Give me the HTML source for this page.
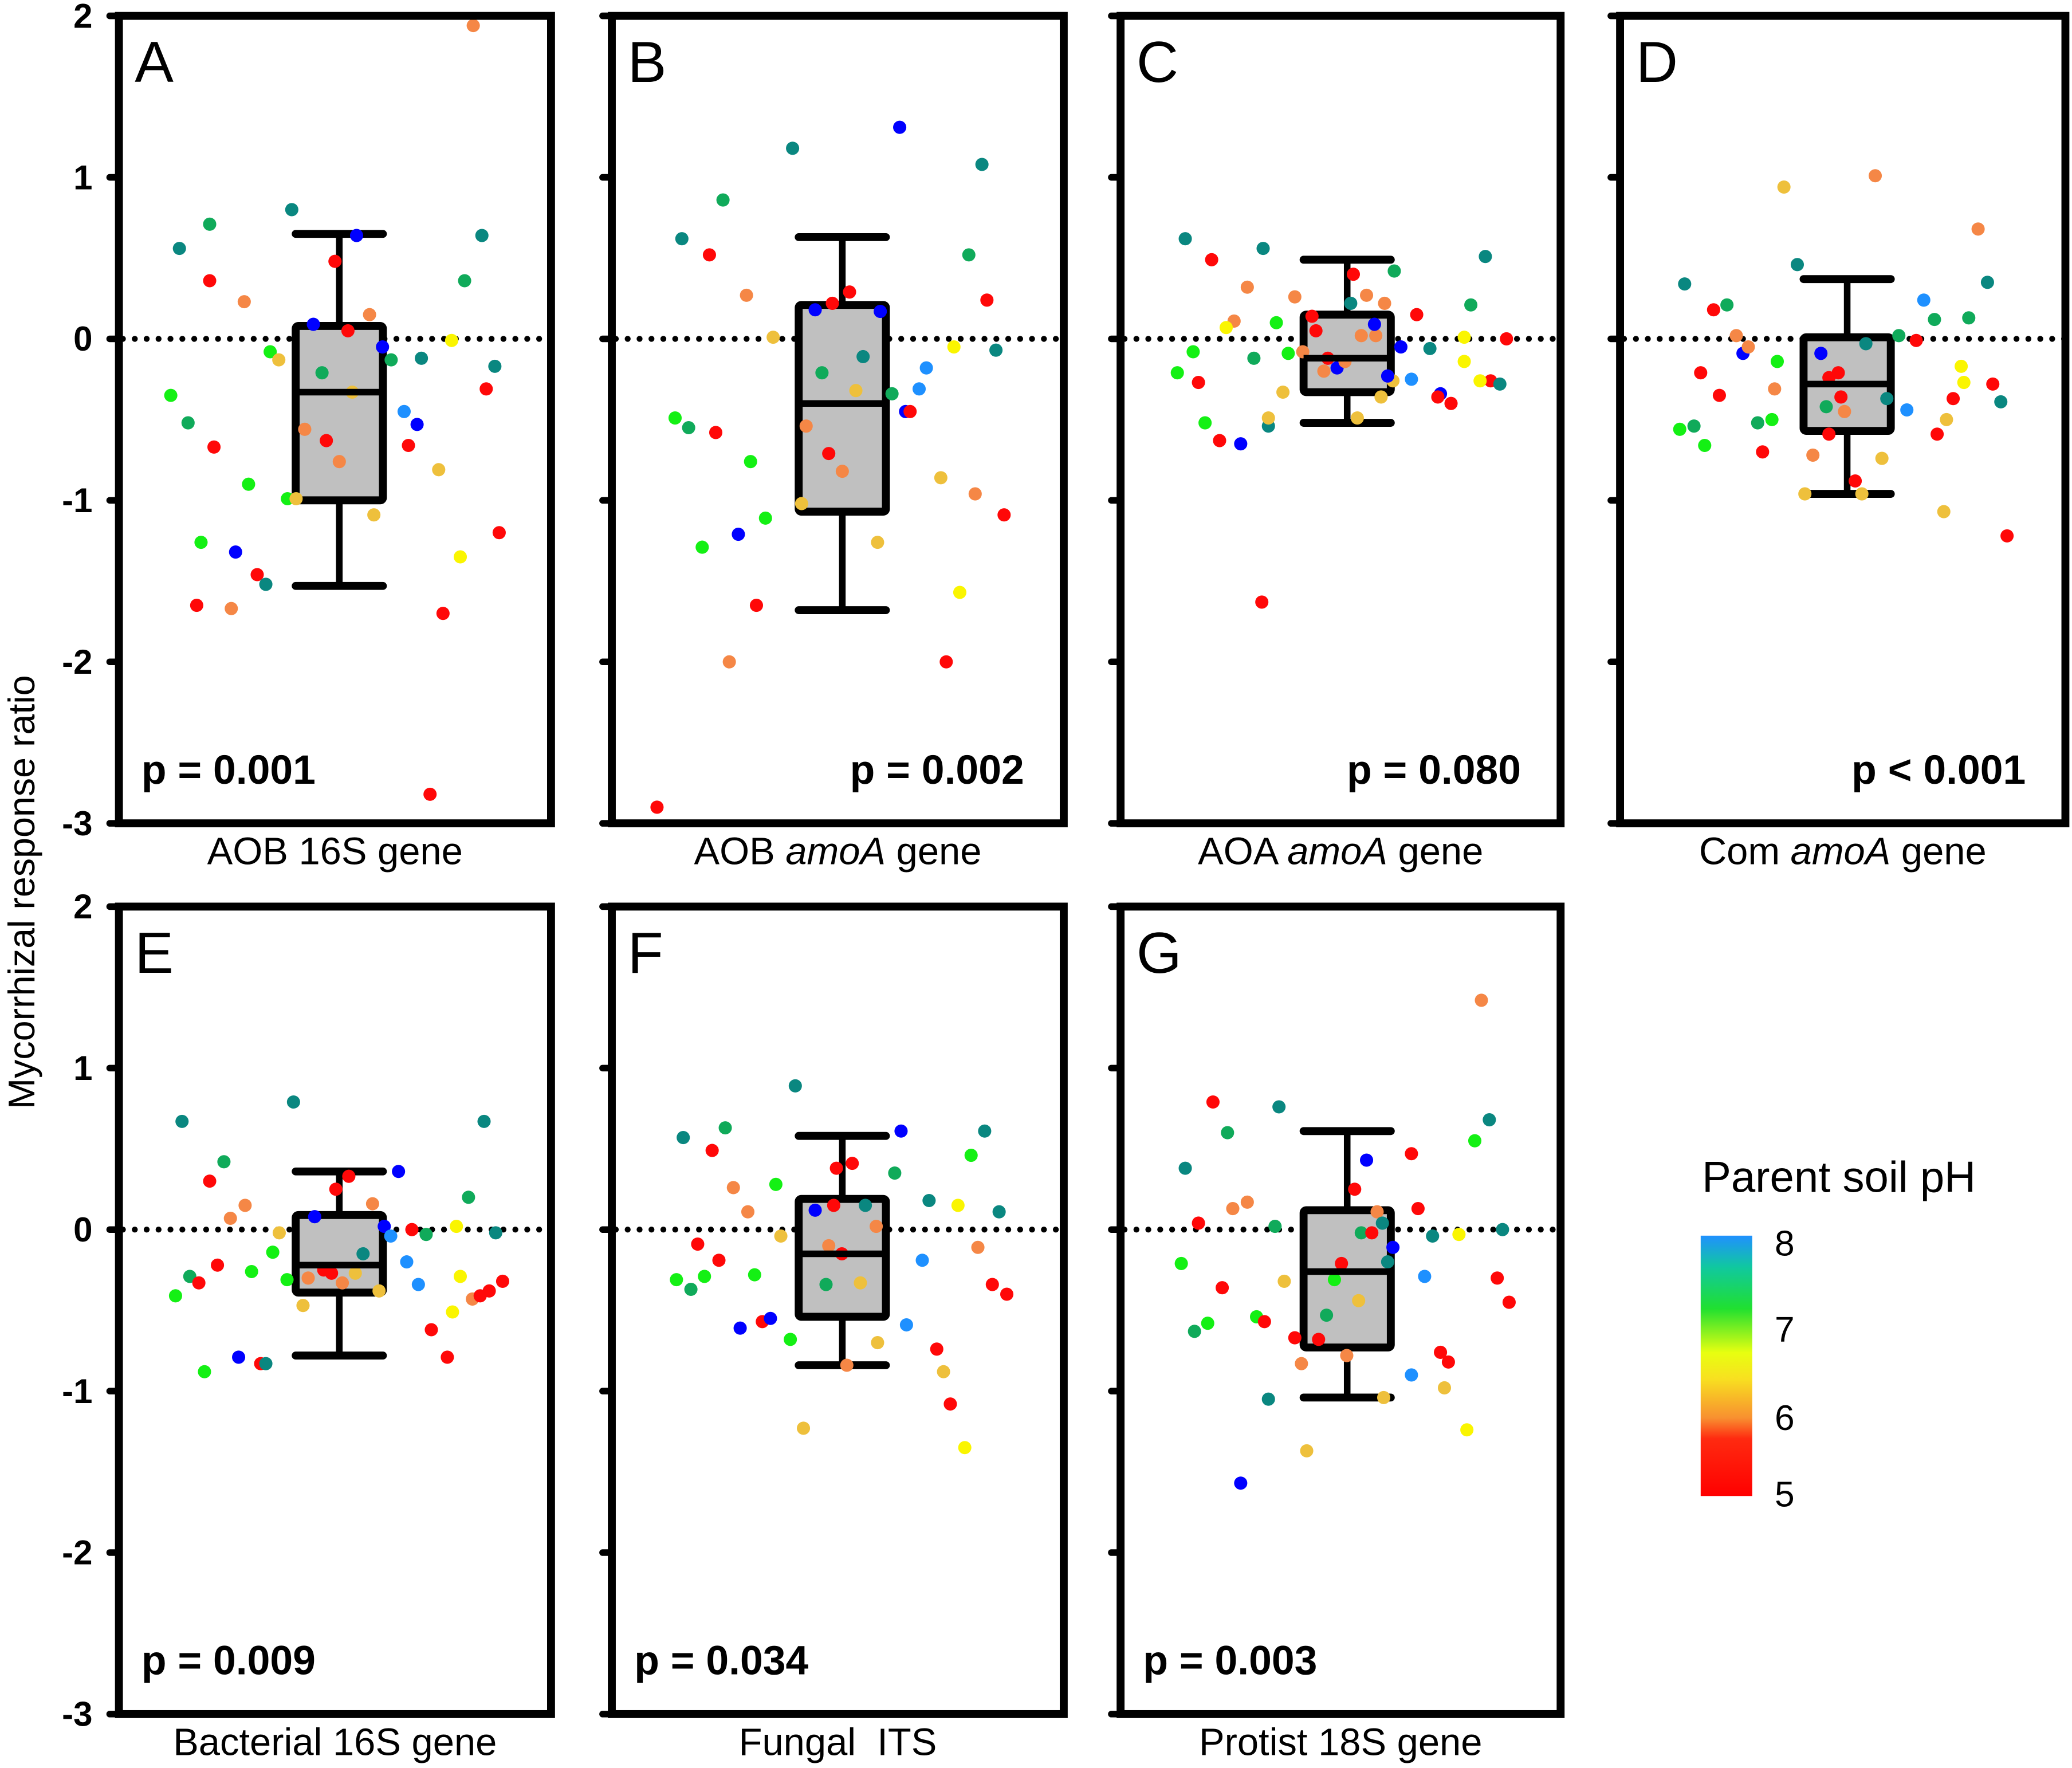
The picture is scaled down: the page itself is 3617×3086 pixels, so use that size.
<!DOCTYPE html>
<html><head><meta charset="utf-8"><style>
html,body{margin:0;padding:0;background:#fff}
svg{display:block}
text{font-family:"Liberation Sans",Arial,sans-serif}
</style></head><body>
<svg id="chart" xmlns="http://www.w3.org/2000/svg" width="3617" height="3086" viewBox="0 0 1568 1337.8">
<defs>
<linearGradient id="phgrad" x1="0" y1="1" x2="0" y2="0">
<stop offset="0" stop-color="#ff0000"/><stop offset="0.22" stop-color="#ff2a10"/>
<stop offset="0.3" stop-color="#f89030"/><stop offset="0.45" stop-color="#f8e020"/>
<stop offset="0.55" stop-color="#e8ff10"/><stop offset="0.72" stop-color="#20e030"/>
<stop offset="0.88" stop-color="#10c8a0"/><stop offset="1" stop-color="#2090ff"/>
</linearGradient>
</defs>
<g id="root"></g>
<text x="0" y="0" transform="translate(26,675) rotate(-90)" text-anchor="middle" font-size="28">Mycorrhizal response ratio</text>
<g>
<text x="1288" y="902" font-size="33">Parent soil pH</text>
<rect x="1287" y="935" width="39" height="197" fill="url(#phgrad)"/>
<text x="1343" y="950" font-size="27">8</text>
<text x="1343" y="1015" font-size="27">7</text>
<text x="1343" y="1082" font-size="27">6</text>
<text x="1343" y="1140" font-size="27">5</text>
</g>
</svg>
<script>
const yTicks = [2, 1, 0, -1, -2, -3];
const panelLetters = ["A","B","C","D","E","F","G"];
const panelLabels = ["AOB 16S gene","AOB |amoA| gene","AOA |amoA| gene","Com |amoA| gene","Bacterial 16S gene","Fungal \u00a0ITS","Protist 18S gene"];
const pValues = ["p = 0.001","p = 0.002","p = 0.080","p < 0.001","p = 0.009","p = 0.034","p = 0.003"];
const pAlign = ["left","right","right","right","left","left","left"];
const boxStats = [
 [0.65,0.08,-0.33,-1.0,-1.53],[0.63,0.21,-0.40,-1.07,-1.68],[0.49,0.15,-0.12,-0.33,-0.52],
 [0.37,0.01,-0.28,-0.57,-0.96],[0.36,0.09,-0.22,-0.39,-0.78],[0.58,0.19,-0.15,-0.54,-0.84],
 [0.61,0.12,-0.26,-0.73,-1.04]];
const boxCenter = [51, 51, 51.5, 51, 51, 51, 51.5];

const A_x=[14,21,12,16,21,29,22,30,19,39,27,32,34,18,26,40,50,55,45,53,58,35,37,47,54,61,63,43,48,51,41,59,70,66,69,67,74,77,80,84,87,85,88,79,75,72,82];
const A_v=[0.56,0.71,-0.35,-0.52,0.36,0.23,-0.67,-0.9,-1.26,-0.99,-1.32,-1.46,-1.52,-1.65,-1.67,0.80,0.48,0.64,0.09,0.05,0.15,-0.08,-0.13,-0.21,-0.33,-0.05,-0.13,-0.56,-0.63,-0.76,-0.99,-1.09,-0.12,-0.45,-0.53,-0.66,-0.81,-0.01,0.36,0.64,-0.17,-0.31,-1.2,-1.35,-1.70,-2.82,1.94];
const A_ph=[7.6,7.2,7.0,7.2,5.2,6.0,5.2,7.0,7.0,7.0,8.2,5.2,7.6,5.2,6.0,7.6,5.2,8.2,8.2,5.2,6.0,7.0,6.3,7.2,6.3,8.2,7.2,6.0,5.2,6.0,6.3,6.3,7.6,7.9,8.2,5.2,6.3,6.7,7.2,7.6,7.6,5.2,5.2,6.7,5.2,5.2,6.0];
const B_x=[15.5,24.6,21.6,40,29.8,14,17,23,30.7,20,28,34,32,26,10,35.7,45,48.8,52.6,46.5,43,54,48,51,42,55.6,59.4,62,58.8,63.7,68,69.6,65,66,75.7,72.8,80.4,83,79,81.9,85,86.8,77,74];
const B_v=[0.62,0.86,0.52,1.18,0.27,-0.49,-0.55,-0.58,-0.76,-1.29,-1.21,-1.11,-1.65,-2.0,-2.9,0.01,0.18,0.22,0.29,-0.21,-0.54,-0.32,-0.71,-0.82,-1.02,-0.11,0.17,-0.34,-1.26,1.31,-0.31,-0.18,-0.45,-0.45,-0.05,-0.86,-0.96,0.24,0.52,1.08,-0.07,-1.09,-1.57,-2.0];
const B_ph=[7.6,7.2,5.2,7.6,6.0,7.0,7.2,5.2,7.0,7.0,8.2,7.0,5.2,6.0,5.2,6.3,8.2,5.2,5.2,7.2,6.0,6.3,5.2,6.0,6.3,7.6,8.2,7.2,6.3,8.2,7.9,7.9,8.2,5.2,6.7,6.3,6.0,5.2,7.2,7.6,7.6,5.2,6.7,5.2];
const C_x=[14.7,20.7,28.8,25.8,24,35.4,32.4,16.5,12.9,17.7,30.3,38.1,19.2,22.5,27.3,33.6,32.1,36.9,33.6,39.6,43.5,44.4,41.4,46.2,49.2,52.3,52.9,55.9,54.7,58,60,47.1,51,57.7,62.2,59.2,61.9,53.8,63.7,60.7,66.1,67.3,70.3,72.7,78.1,78.1,72.1,75.1,79.6,82.9,84.1,86.2,87.7,81.7];
const C_v=[0.62,0.49,0.32,0.11,0.07,0.10,0.56,-0.08,-0.21,-0.27,-0.12,-0.09,-0.52,-0.63,-0.65,-0.54,-1.63,-0.33,-0.49,0.26,0.14,0.05,-0.08,-0.2,-0.18,0.22,0.40,0.27,0.02,0.02,0.22,-0.12,-0.14,0.09,0.42,-0.36,-0.26,-0.49,-0.05,-0.23,-0.25,0.15,-0.06,-0.34,0.01,-0.14,-0.36,-0.40,0.21,0.51,-0.26,-0.28,0.0,-0.26];
const C_ph=[7.6,5.2,6.0,6.0,6.7,7.0,7.6,7.0,7.0,5.2,7.2,7.0,7.0,5.2,8.2,7.6,5.2,6.3,6.3,6.0,5.2,5.2,6.0,6.0,8.2,7.6,5.2,6.0,6.0,6.0,6.0,5.2,6.0,8.2,7.2,6.3,6.3,6.3,8.2,8.2,7.9,5.2,7.6,8.2,6.7,6.7,5.2,5.2,7.2,7.6,5.2,7.6,5.2,6.7];
const D_x=[14.5,21,24,13.4,16.6,19,18.1,22.3,26.1,27.6,28.8,30.9,32,34.7,34.1,35.3,36.8,39.8,41.5,43.3,45.1,46.9,49.6,49,46.3,50.4,46.9,52.8,54.3,55.2,57.3,62.6,58.8,59.9,64.4,66.5,68.2,70.6,71.2,73.3,74.8,76.6,77.2,78.3,80.4,82.5,83.7,85.5,72.7,86.9];
const D_v=[0.34,0.18,0.21,-0.56,-0.54,-0.66,-0.21,-0.35,0.02,-0.09,-0.05,-0.52,-0.70,-0.31,-0.50,-0.14,0.94,0.46,-0.96,-0.72,-0.09,-0.24,-0.36,-0.21,-0.42,-0.45,-0.59,-0.88,-0.96,-0.03,1.01,0.02,-0.74,-0.37,-0.44,-0.01,0.24,0.12,-0.59,-0.50,-0.37,-0.17,-0.27,0.13,0.68,0.35,-0.28,-0.39,-1.07,-1.22];
const D_ph=[7.6,5.2,7.2,7.0,7.2,7.0,5.2,5.2,6.0,8.2,6.0,7.2,5.2,6.0,7.0,7.0,6.3,7.6,6.3,6.0,8.2,5.2,5.2,5.2,7.2,6.0,5.2,5.2,6.3,7.6,6.0,7.2,6.3,7.6,7.9,5.2,7.9,7.2,5.2,6.3,5.2,6.7,6.7,7.2,6.0,7.6,5.2,7.6,6.3,5.2];
const E_x=[14.6,21,24.3,13.1,16.4,18.5,22.8,19.8,25.8,29.2,30.7,35.6,37.1,38.9,27.7,32.8,34,40.4,42.6,43.8,45.3,47.4,49.2,50.2,53.2,51.7,54.7,58.7,56.5,60.2,61.4,64.7,62.9,66.6,67.8,69.3,71.1,72.3,76,78.1,79,77.2,80.9,81.8,83.6,85.7,84.5,87.2,88.8];
const E_v=[0.67,0.30,0.42,-0.41,-0.29,-0.33,-0.22,-0.88,0.07,0.15,-0.26,-0.14,-0.02,-0.31,-0.79,-0.83,-0.83,0.79,-0.47,-0.30,0.08,-0.25,-0.27,0.25,0.33,-0.33,-0.27,0.16,-0.15,-0.38,0.02,0.36,-0.04,-0.20,0,-0.34,-0.03,-0.62,-0.79,0.02,-0.29,-0.51,0.20,-0.43,-0.41,-0.38,0.67,-0.02,-0.32];
const E_ph=[7.6,5.2,7.2,7.0,7.2,5.2,5.2,7.0,6.0,6.0,7.0,7.0,6.3,7.0,8.2,5.2,7.6,7.6,6.3,6.0,8.2,5.2,5.2,5.2,5.2,6.0,6.3,6.0,7.6,6.3,8.2,8.2,7.9,7.9,5.2,7.9,7.2,5.2,5.2,6.7,6.7,6.7,7.2,6.0,5.2,5.2,7.6,7.6,5.2];
const F_x=[15.8,25.1,22.2,40.6,26.9,30.1,36.3,14.3,17.5,20.5,23.7,19,37.4,31.6,33.3,35.1,28.4,39.5,42.4,45,49.7,49.1,53.2,48,47.4,50.9,52,55,56.1,58.5,58.8,64,62.6,65.2,68.7,70.2,71.9,73.4,74.9,76.6,78.1,79.5,81,82.5,84.2,85.7,87.4];
const F_v=[0.57,0.63,0.49,0.89,0.26,0.11,0.28,-0.31,-0.37,-0.29,-0.19,-0.09,-0.04,-0.28,-0.57,-0.55,-0.61,-0.68,-1.23,0.12,0.38,0.15,0.41,-0.10,-0.34,-0.15,-0.84,-0.33,0.15,0.02,-0.70,0.61,0.35,-0.59,-0.19,0.18,-0.74,-0.88,-1.08,0.15,-1.35,0.46,-0.11,0.61,-0.34,0.11,-0.40];
const F_ph=[7.6,7.2,5.2,7.6,6.0,6.0,7.0,7.0,7.2,7.0,5.2,5.2,6.3,7.0,5.2,8.2,8.2,7.0,6.3,8.2,5.2,5.2,5.2,6.0,7.2,5.2,6.0,6.3,7.6,6.0,6.3,8.2,7.2,7.9,7.9,7.6,5.2,6.3,5.2,6.7,6.7,7.0,6.0,7.6,5.2,7.6,5.2];
const G_x=[14.7,21,24.3,17.7,25.5,28.8,13.8,16.8,19.8,23.1,30.9,36,32.7,33.6,27.3,35.1,37.2,41.1,39.6,42.3,45,46.8,48.6,50.2,51.4,53.2,54.7,54.1,55.9,57.1,58.3,59.5,60.7,61.9,59.8,67.6,66.1,69.1,70.9,72.7,74.5,73.6,76.9,78.7,80.5,82,83.8,85.6,86.8,88.3,66.1];
const G_v=[0.38,0.79,0.60,0.04,0.13,0.17,-0.21,-0.63,-0.58,-0.36,-0.54,0.76,-0.57,-1.05,-1.57,0.02,-0.32,-0.83,-0.67,-1.37,-0.68,-0.53,-0.31,-0.21,-0.78,0.25,-0.02,-0.44,0.43,-0.02,0.11,0.04,-0.20,-0.11,-1.04,0.13,0.47,-0.29,-0.04,-0.76,-0.82,-0.98,-0.03,-1.24,0.55,1.42,0.68,-0.30,0,-0.45,-0.90];
const G_ph=[7.6,5.2,7.2,5.2,6.0,6.0,7.0,7.2,7.0,5.2,7.0,7.6,5.2,7.6,8.2,7.2,6.3,6.0,5.2,6.3,5.2,7.2,7.0,5.2,6.0,5.2,7.2,6.3,8.2,5.2,6.0,7.6,7.6,8.2,6.3,5.2,5.2,7.9,7.6,5.2,5.2,6.3,6.7,6.7,7.0,6.0,7.6,5.2,7.6,5.2,7.9];

const pointX=[A_x,B_x,C_x,D_x,E_x,F_x,G_x];
const pointV=[A_v,B_v,C_v,D_v,E_v,F_v,G_v];
const pointPH=[A_ph,B_ph,C_ph,D_ph,E_ph,F_ph,G_ph];

const NS="http://www.w3.org/2000/svg";
const root=document.getElementById('root');
const frames=[[90,417,12,623],[463,805,12,623],[848,1181,12,623],[1226,1563,12,623],[90,417,686,1297],[463,805,686,1297],[848,1181,686,1297]];
function mk(tag,attrs,parent){const e=document.createElementNS(NS,tag);for(const k in attrs)e.setAttribute(k,attrs[k]);(parent||root).appendChild(e);return e;}
function colorFor(ph){
  if(ph>=8.1) return "#0000ff";
  const st=[[5.0,[255,0,0]],[5.5,[255,20,20]],[6.0,[245,135,70]],[6.3,[238,192,60]],[6.7,[250,245,0]],[7.0,[20,240,20]],[7.2,[16,170,90]],[7.6,[10,135,128]],[7.9,[30,144,255]]];
  if(ph<=st[0][0])return "rgb(255,0,0)";
  for(let i=1;i<st.length;i++){if(ph<=st[i][0]){const t=(ph-st[i-1][0])/(st[i][0]-st[i-1][0]);const a=st[i-1][1],b=st[i][1];return `rgb(${a.map((c,j)=>Math.round(c+(b[j]-c)*t)).join(',')})`;}}
  return "rgb(30,144,255)";
}
frames.forEach((f,i)=>{
  const [x0,x1,yT,yB]=f;
  const ys=v=>yT+(2-v)*(yB-yT)/5;
  const xs=p=>x0+p/100*(x1-x0);
  const g=mk('g',{});
  
  
  yTicks.forEach(t=>{
    const tk=mk('line',{x1:x0-7,x2:x0,y1:ys(t),y2:ys(t),stroke:'#000','stroke-width':5,'stroke-linecap':'round'},g);
    
    
    if(i===0||i===4){
      const tl=mk('text',{x:x0-20,y:ys(t)+9,'text-anchor':'end','font-size':26,'font-weight':'bold'},g);
      tl.textContent=String(t);
      
      
    }
  });
  const zl=mk('line',{x1:x0+3,x2:x1,y1:ys(0),y2:ys(0),stroke:'#000','stroke-width':4.5,'stroke-dasharray':'0 9','stroke-linecap':'round'},g);
  
  
  const s=boxStats[i],cx=xs(boxCenter[i]),hw=33;
  const wl=mk('line',{x1:cx,x2:cx,y1:ys(s[0]),y2:ys(s[4]),stroke:'#000','stroke-width':5},g);
  
  
  [s[0],s[4]].forEach(v=>{const c=mk('line',{x1:cx-hw,x2:cx+hw,y1:ys(v),y2:ys(v),stroke:'#000','stroke-width':6,'stroke-linecap':'round'},g);
    
    });
  const bx=mk('rect',{x:cx-hw,y:ys(s[1]),width:2*hw,height:ys(s[3])-ys(s[1]),fill:'#c0c0c0',stroke:'#000','stroke-width':6,rx:2},g);
  
  
  pointX[i].forEach((px,k)=>{
    const c=mk('circle',{cx:xs(px),cy:ys(pointV[i][k]),r:5,fill:colorFor(pointPH[i][k])},g);
    
    
  });
  const md=mk('line',{x1:cx-hw,x2:cx+hw,y1:ys(s[2]),y2:ys(s[2]),stroke:'#000','stroke-width':5},g);
  
  
  const fr=mk('rect',{x:x0,y:yT,width:x1-x0,height:yB-yT,fill:'none',stroke:'#000','stroke-width':6},g);
  
  
  const lt=mk('text',{x:x0+12,y:yT+50,'font-size':44},g);
  lt.textContent=panelLetters[i];
  
  
  const right=pAlign[i]==='right';
  const pv=mk('text',{x:right?x1-30:x0+17,y:yB-30,'font-size':31,'font-weight':'bold','text-anchor':right?'end':'start'},g);
  pv.textContent=pValues[i];
  
  
  const xl=mk('text',{x:(x0+x1)/2,y:yB+31,'font-size':29,'text-anchor':'middle'},g);
  
  
  panelLabels[i].split('|').forEach((part,j)=>{const ts=mk('tspan',{},xl);if(j%2===1)ts.setAttribute('font-style','italic');ts.textContent=part;});
});
</script>
</body></html>
